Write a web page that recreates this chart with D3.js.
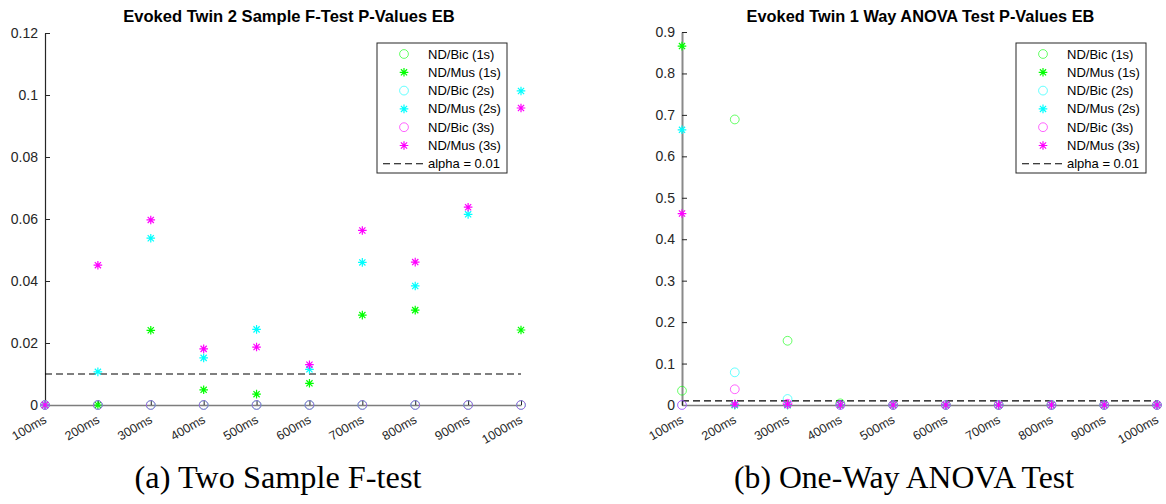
<!DOCTYPE html>
<html>
<head>
<meta charset="utf-8">
<script src="https://cdn.jsdelivr.net/npm/d3@7"></script>
<style>
  html, body { margin: 0; padding: 0; background: #fff; }
  svg { display: block; }
</style>
</head>
<body>
<svg id="chart" width="1166" height="504"></svg>
<script>
// Time windows on the x axis
const timeLabels = ["100ms", "200ms", "300ms", "400ms", "500ms", "600ms", "700ms", "800ms", "900ms", "1000ms"];

// Legend entries, in plotting order
const seriesNames = ["ND/Bic (1s)", "ND/Mus (1s)", "ND/Bic (2s)", "ND/Mus (2s)", "ND/Bic (3s)", "ND/Mus (3s)"];
const alphaLabel = "alpha = 0.01";
const alphaLevel = 0.01;

// Two sample F-test p-values (null = no value)
const fTestBic1s = [0, 0, 0, 0, 0, 0, 0, 0, 0, 0];
const fTestMus1s = [0, 0, 0.0241, 0.0049, 0.0035, 0.0070, 0.0290, 0.0306, null, 0.0242];
const fTestBic2s = [0, 0, 0, 0, 0, 0, 0, 0, 0, 0];
const fTestMus2s = [0, 0.0107, 0.0538, 0.0152, 0.0244, 0.0115, 0.0460, 0.0384, 0.0615, 0.1013];
const fTestBic3s = [0, 0, 0, 0, 0, 0, 0, 0, 0, 0];
const fTestMus3s = [0, 0.0451, 0.0597, 0.0181, 0.0187, 0.0130, 0.0563, 0.0461, 0.0638, 0.0958];

// One-way ANOVA p-values
const anovaBic1s = [0.0345, 0.689, 0.155, 0.004, 0, 0, 0, 0, 0, 0];
const anovaMus1s = [0.866, 0, 0, 0, 0, 0, 0, 0, 0, 0];
const anovaBic2s = [0, 0.0788, 0.0145, 0, 0, 0, 0, 0, 0, 0];
const anovaMus2s = [0.664, 0, 0, 0, 0, 0, 0, 0, 0, 0];
const anovaBic3s = [0, 0.038, 0.003, 0, 0, 0, 0, 0, 0, 0];
const anovaMus3s = [0.462, 0.002, 0.002, 0, 0, 0, 0, 0, 0, 0];

// Y ticks
const fTestTicks = [0, 0.02, 0.04, 0.06, 0.08, 0.1, 0.12];
const anovaTicks = [0, 0.1, 0.2, 0.3, 0.4, 0.5, 0.6, 0.7, 0.8, 0.9];

// Marker style per series
const markerStyles = [
  { color: "#00ff00", shape: "circle" },
  { color: "#00ff00", shape: "star" },
  { color: "#00ffff", shape: "circle" },
  { color: "#00ffff", shape: "star" },
  { color: "#ff00ff", shape: "circle" },
  { color: "#ff00ff", shape: "star" }
];

const svg = d3.select("#chart");
const TEXT = "#262626";
const SANS = "'Liberation Sans', Arial, Helvetica, sans-serif";
const SERIF = "'Liberation Serif', 'DejaVu Serif', serif";

// MATLAB-like asterisk: plus combined with a cross
function starPath(r) {
  const d = r * 0.72;
  return `M${-r},0L${r},0M0,${-r}L0,${r}M${-d},${-d}L${d},${d}M${-d},${d}L${d},${-d}`;
}

function drawMarker(g, style, cx, cy) {
  if (style.shape === "circle") {
    g.append("circle")
      .attr("cx", cx).attr("cy", cy).attr("r", 4.4)
      .attr("fill", "none")
      .attr("stroke", style.color)
      .attr("stroke-opacity", 0.6)
      .attr("stroke-width", 1);
  } else {
    g.append("path")
      .attr("transform", `translate(${cx},${cy})`)
      .attr("d", starPath(4.3))
      .attr("fill", "none")
      .attr("stroke", style.color)
      .attr("stroke-width", 1.2);
  }
}

// Scale a text element's font so its rendered width matches a target
function fitWidth(sel, baseSize, width) {
  const w = sel.node().getComputedTextLength();
  sel.style("font-size", (baseSize * width / w) + "px");
}

function drawPanel(p) {
  const x = d3.scalePoint().domain(timeLabels).range([p.x0, p.x1]).padding(0);
  const y = d3.scaleLinear().domain([0, p.yMax]).range([p.yBottom, p.yTop]);
  const g = svg.append("g");

  // Title
  const title = g.append("text")
    .attr("x", (p.x0 + p.x1) / 2 + p.titleShift).attr("y", 22)
    .attr("text-anchor", "middle")
    .style("font-family", SANS).style("font-weight", "bold").style("font-size", "13px")
    .attr("fill", "#000")
    .text(p.title);
  fitWidth(title, 13, p.titleWidth);

  // Y axis
  const yAxis = g.append("g")
    .attr("transform", `translate(${p.x0},0)`)
    .call(d3.axisLeft(y).tickValues(p.ticks).tickSizeInner(-5).tickSizeOuter(0).tickPadding(7)
      .tickFormat(d => d3.format("~g")(+d.toFixed(2))));
  yAxis.select(".domain").attr("stroke", p.yAxisColor).attr("stroke-width", p.yAxisWidth);
  yAxis.selectAll(".tick line").attr("stroke", TEXT);
  yAxis.selectAll(".tick text").attr("fill", TEXT)
    .style("font-size", "14px").style("font-family", SANS);

  // X axis
  const xAxis = g.append("g")
    .attr("transform", `translate(0,${p.yBottom})`)
    .call(d3.axisBottom(x).tickSizeInner(-5).tickSizeOuter(0).tickPadding(0));
  xAxis.select(".domain").attr("stroke", "#7d7d7d").attr("stroke-width", 1.6);
  xAxis.selectAll(".tick line").attr("stroke", TEXT);
  xAxis.selectAll(".tick text")
    .attr("fill", TEXT)
    .style("font-size", "12.5px").style("font-family", SANS)
    .attr("text-anchor", "end")
    .attr("dy", null).attr("y", null)
    .attr("transform", "translate(2,17) rotate(-30)");

  // Significance threshold
  g.append("line")
    .attr("x1", p.x0).attr("x2", p.x1)
    .attr("y1", y(alphaLevel)).attr("y2", y(alphaLevel))
    .attr("stroke", "#000").attr("stroke-width", 1.1)
    .attr("stroke-dasharray", "7,4");

  // Series markers
  p.series.forEach((vals, i) => {
    const sg = g.append("g");
    vals.forEach((v, j) => {
      if (v !== null) drawMarker(sg, markerStyles[i], x(timeLabels[j]), y(v));
    });
  });

  // Legend
  const lg = g.append("g");
  lg.append("rect")
    .attr("x", p.legX).attr("y", 43).attr("width", 130).attr("height", 130)
    .attr("fill", "#fff").attr("stroke", TEXT).attr("stroke-width", 1);
  const rowY = i => 54 + i * 18.3;
  seriesNames.forEach((name, i) => {
    drawMarker(lg, markerStyles[i], p.legX + 27, rowY(i));
    lg.append("text")
      .attr("x", p.legX + 51).attr("y", rowY(i) + 4.5)
      .style("font-size", "13px").style("font-family", SANS).attr("fill", "#000")
      .text(name);
  });
  lg.append("line")
    .attr("x1", p.legX + 6).attr("x2", p.legX + 50)
    .attr("y1", rowY(6)).attr("y2", rowY(6))
    .attr("stroke", "#000").attr("stroke-width", 1.1)
    .attr("stroke-dasharray", "7,4");
  lg.append("text")
    .attr("x", p.legX + 51).attr("y", rowY(6) + 4.5)
    .style("font-size", "13px").style("font-family", SANS).attr("fill", "#000")
    .text(alphaLabel);

  // Sub-figure caption
  const cap = g.append("text")
    .attr("x", p.captionX).attr("y", 488)
    .attr("text-anchor", "middle")
    .style("font-family", SERIF).style("font-size", "26px")
    .attr("fill", "#000")
    .text(p.caption);
  fitWidth(cap, 26, p.captionWidth);
}

drawPanel({
  title: "Evoked Twin 2 Sample F-Test P-Values EB",
  titleWidth: 332, titleShift: 6,
  caption: "(a) Two Sample F-test",
  captionX: 278, captionWidth: 287,
  x0: 45, x1: 521, yTop: 33, yBottom: 405,
  yMax: 0.12, ticks: fTestTicks,
  yAxisColor: "#262626", yAxisWidth: 1.2,
  legX: 377,
  series: [fTestBic1s, fTestMus1s, fTestBic2s, fTestMus2s, fTestBic3s, fTestMus3s]
});

drawPanel({
  title: "Evoked Twin 1 Way ANOVA Test P-Values EB",
  titleWidth: 348, titleShift: 1,
  caption: "(b) One-Way ANOVA Test",
  captionX: 904, captionWidth: 340,
  x0: 682, x1: 1157, yTop: 32, yBottom: 405,
  yMax: 0.9, ticks: anovaTicks,
  yAxisColor: "#8a8a8a", yAxisWidth: 2,
  legX: 1016,
  series: [anovaBic1s, anovaMus1s, anovaBic2s, anovaMus2s, anovaBic3s, anovaMus3s]
});
</script>
</body>
</html>
